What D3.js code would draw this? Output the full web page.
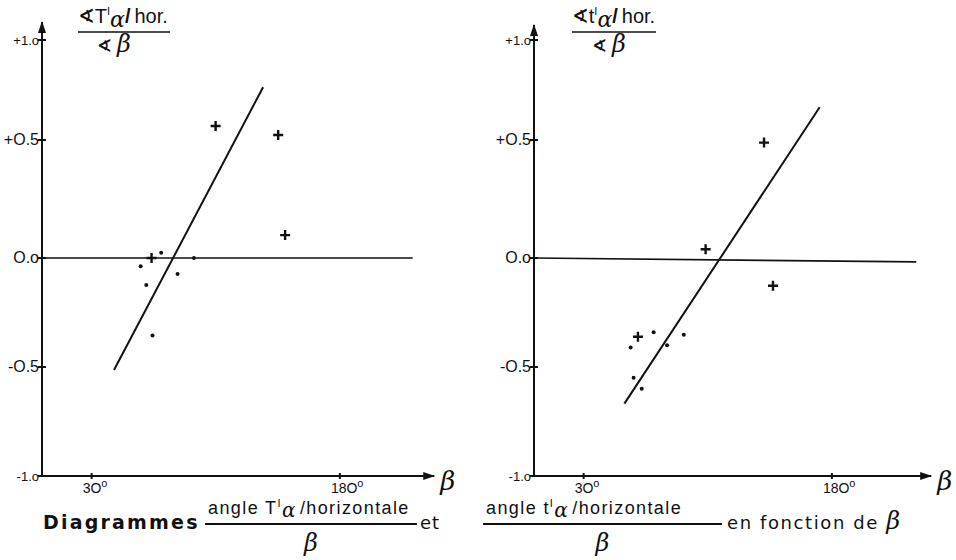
<!DOCTYPE html>
<html>
<head>
<meta charset="utf-8">
<script src="https://cdn.jsdelivr.net/npm/d3@7"></script>
<style>
	body { margin: 0; background: #fff; }
	text { font-family: "Liberation Sans", "DejaVu Sans", sans-serif; fill: #111; }
	.wide { font-family: "DejaVu Sans", sans-serif; }
	.greek { font-family: "DejaVu Serif", "Liberation Serif", serif; font-style: italic; }
</style>
</head>
<body>
<div id="graph"></div>
<script>
// values (beta in degrees, ratio on y)
var yTicks = [1.0, 0.5, 0.0, -0.5, -1.0];
var yTickLabels = ["1.o", "O.5", "O.o", "O.5", "1.o"];
var yTickSigns = ["+", "+", "", "-", "-"];
var xTicks = [30, 180];
var xTickLabels = ["3O", "18O"];

var leftCrosses = [[104.9, 0.57], [142.7, 0.525], [146.9, 0.097], [66.2, 0.0]];
var leftDots = [[59.6, -0.038], [72.0, 0.022], [81.9, -0.073], [63.0, -0.124], [66.8, -0.355], [91.8, 0.0]];
var leftFit = [[43.5, -0.514], [133.6, 0.764]];
var leftZero = [[0, 0], [224, 0]];

var rightCrosses = [[139.0, 0.489], [103.7, 0.037], [144.4, -0.127], [62.8, -0.361]];
var rightDots = [[72.3, -0.341], [58.4, -0.410], [80.4, -0.400], [90.5, -0.352], [60.2, -0.549], [65.1, -0.600]];
var rightFit = [[54.6, -0.668], [172.6, 0.664]];
var rightZero = [[0, 0], [231, -0.018]];

var w = 956, h = 560;

var svg = d3.select("#graph")
	.append("svg")
	.attr("width", w)
	.attr("height", h);

svg.append("defs").append("marker")
	.attr("id", "arrow")
	.attr("viewBox", "0 -5 12 10")
	.attr("refX", 11)
	.attr("refY", 0)
	.attr("markerWidth", 12)
	.attr("markerHeight", 10)
	.attr("markerUnits", "userSpaceOnUse")
	.attr("orient", "auto")
	.append("path")
	.attr("d", "M0,-4L12,0L0,4Z")
	.attr("fill", "#111");

drawPanel({x0: 42, xEnd: 237, crosses: leftCrosses, dots: leftDots, fit: leftFit, zero: leftZero,
	top: 22, letter: "T", numX: 78, barW: 92, denX: 97});
drawPanel({x0: 534, xEnd: 240, crosses: rightCrosses, dots: rightDots, fit: rightFit, zero: rightZero,
	top: 25, letter: "t", numX: 572, barW: 84, denX: 592});

function drawPanel(p) {
	var xScale = d3.scaleLinear()
		.domain([0, p.xEnd])
		.range([p.x0, p.x0 + p.xEnd * 1.655]);
	// hand drawn axis: tick spacing is not quite even
	var yScale = d3.scaleLinear()
		.domain([-1, -0.5, 0, 0.5, 1])
		.range([476, 367, 258, 140, 40]);

	var g = svg.append("g");
	var line = d3.line()
		.x(function (d) { return xScale(d[0]); })
		.y(function (d) { return yScale(d[1]); });

	// axes
	g.append("line")
		.attr("x1", xScale(0)).attr("y1", yScale(-1))
		.attr("x2", xScale(0)).attr("y2", p.top)
		.attr("stroke", "#111").attr("stroke-width", 2)
		.attr("marker-end", "url(#arrow)");
	g.append("line")
		.attr("x1", xScale(0)).attr("y1", yScale(-1))
		.attr("x2", xScale(p.xEnd)).attr("y2", yScale(-1))
		.attr("stroke", "#111").attr("stroke-width", 2)
		.attr("marker-end", "url(#arrow)");

	// y ticks
	g.selectAll(".ytick")
		.data(yTicks)
		.enter().append("line")
		.attr("x1", xScale(0) - 4).attr("x2", xScale(0) + 4)
		.attr("y1", function (d) { return yScale(d); })
		.attr("y2", function (d) { return yScale(d); })
		.attr("stroke", "#111").attr("stroke-width", 2);

	g.selectAll(".ylab")
		.data(yTicks)
		.enter().append("text")
		.attr("x", xScale(0) - 3)
		.attr("y", function (d) { return yScale(d) + 5; })
		.attr("text-anchor", "end")
		.attr("font-size", function (d) { return Math.abs(d) == 1 ? 13 : 16; })
		.text(function (d, i) { return yTickSigns[i] + yTickLabels[i]; });

	// x ticks
	g.selectAll(".xtick")
		.data(xTicks)
		.enter().append("line")
		.attr("x1", function (d) { return xScale(d); })
		.attr("x2", function (d) { return xScale(d); })
		.attr("y1", yScale(-1) - 3).attr("y2", yScale(-1) + 3)
		.attr("stroke", "#111").attr("stroke-width", 2);

	var xl = g.selectAll(".xlab")
		.data(xTicks)
		.enter().append("text")
		.attr("x", function (d) { return xScale(d) - 9; })
		.attr("y", yScale(-1) + 17)
		.attr("font-size", 14);
	xl.append("tspan").text(function (d, i) { return xTickLabels[i]; });
	xl.append("tspan").attr("dy", -6).attr("font-size", 11).text("o");

	g.append("text")
		.attr("class", "greek")
		.attr("x", xScale(p.xEnd) + 6)
		.attr("y", yScale(-1) + 14)
		.attr("font-size", 26)
		.text("β");

	// zero line and fitted line
	g.append("path").datum(p.zero)
		.attr("d", line).attr("fill", "none")
		.attr("stroke", "#111").attr("stroke-width", 1.6);
	g.append("path").datum(p.fit)
		.attr("d", line).attr("fill", "none")
		.attr("stroke", "#111").attr("stroke-width", 2);

	// points
	g.selectAll(".dot")
		.data(p.dots)
		.enter().append("circle")
		.attr("cx", function (d) { return xScale(d[0]); })
		.attr("cy", function (d) { return yScale(d[1]); })
		.attr("r", 2)
		.attr("fill", "#111");

	g.selectAll(".cross")
		.data(p.crosses)
		.enter().append("path")
		.attr("d", function (d) {
			var cx = xScale(d[0]), cy = yScale(d[1]);
			return "M" + (cx - 5) + "," + cy + "H" + (cx + 5) + "M" + cx + "," + (cy - 5) + "V" + (cy + 5);
		})
		.attr("stroke", "#111").attr("stroke-width", 2.4);

	// y axis title as a fraction
	var num = g.append("text")
		.attr("x", p.numX)
		.attr("y", 23)
		.attr("font-size", 20);
	num.append("tspan").attr("font-weight", "bold").text("∢");
	num.append("tspan").text(p.letter);
	num.append("tspan").attr("dy", -8).attr("font-size", 11).text("I");
	num.append("tspan").attr("class", "greek").attr("dy", 12).attr("font-size", 22).text("α");
	num.append("tspan").attr("dy", -4).attr("font-weight", "bold").text("/");
	num.append("tspan").attr("dx", 4).text("hor.");
	g.append("line")
		.attr("x1", p.numX).attr("x2", p.numX + p.barW)
		.attr("y1", 32).attr("y2", 32)
		.attr("stroke", "#111").attr("stroke-width", 1.6);
	var den = g.append("text")
		.attr("x", p.denX)
		.attr("y", 52)
		.attr("font-size", 18);
	den.append("tspan").attr("font-weight", "bold").text("∢ ");
	den.append("tspan").attr("class", "greek").attr("font-size", 24).text("β");
}

// caption at the bottom
var cap = svg.append("g").attr("font-size", 18);
cap.append("text").attr("class", "wide").attr("x", 43).attr("y", 529).attr("font-weight", "bold")
	.attr("font-size", 19).attr("letter-spacing", 2.2).text("Diagrammes");
cap.append("text").attr("class", "wide").attr("x", 420).attr("y", 529).attr("letter-spacing", 1).text("et");
var fin = cap.append("text").attr("class", "wide").attr("x", 727).attr("y", 529).attr("letter-spacing", 1.6);
fin.append("tspan").text("en fonction de ");
fin.append("tspan").attr("class", "greek").attr("font-size", 24).text("β");

var fracs = [{x: 205, w: 212, letter: "T"}, {x: 483, w: 239, letter: "t"}];
fracs.forEach(function (f) {
	var t = cap.append("text").attr("x", f.x + 3).attr("y", 514).attr("letter-spacing", 1.4);
	t.append("tspan").text("angle " + f.letter);
	t.append("tspan").attr("dy", -7).attr("font-size", 11).text("I");
	t.append("tspan").attr("class", "greek").attr("dy", 10).attr("font-size", 20).text("α");
	t.append("tspan").attr("dy", -3).attr("dx", 3).text("/horizontale");
	cap.append("line")
		.attr("x1", f.x).attr("x2", f.x + f.w)
		.attr("y1", 524).attr("y2", 524)
		.attr("stroke", "#111").attr("stroke-width", 2);
	cap.append("text").attr("class", "greek")
		.attr("x", f.x + f.w / 2 - 7).attr("y", 551)
		.attr("font-size", 24).text("β");
});
</script>
</body>
</html>
